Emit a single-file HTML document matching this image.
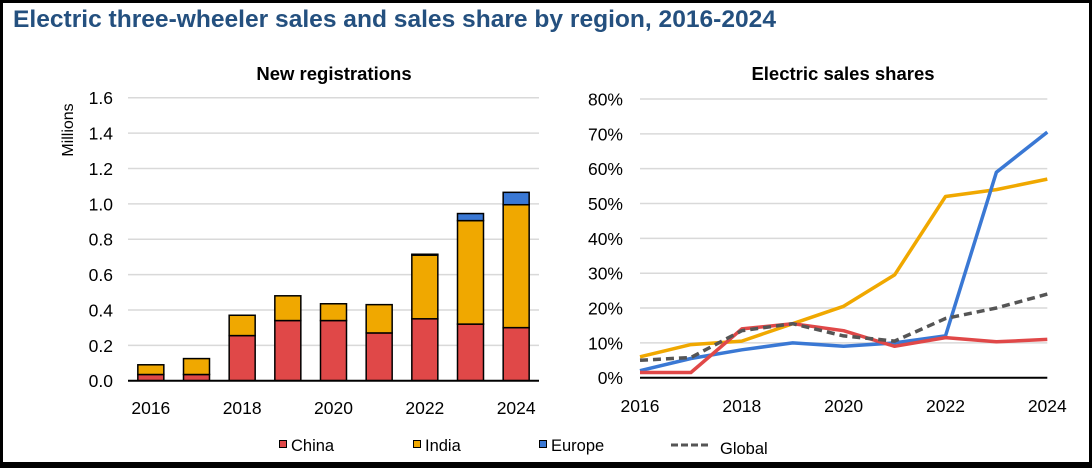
<!DOCTYPE html>
<html><head><meta charset="utf-8"><style>
html,body{margin:0;padding:0;background:#fff}
svg{display:block;font-family:"Liberation Sans",Arial,sans-serif}
</style></head><body>
<svg id="chart" width="1092" height="468" viewBox="0 0 1092 468">
<rect x="1.5" y="1.5" width="1089" height="463" fill="#fff" stroke="#000" stroke-width="3"/>
<rect x="0" y="462" width="1092" height="6" fill="#000"/>
<text x="13" y="27" font-size="24.5" font-weight="bold" fill="#24507f" textLength="763" lengthAdjust="spacingAndGlyphs">Electric three-wheeler sales and sales share by region, 2016-2024</text>
<text x="334" y="80" font-size="18.5" font-weight="bold" text-anchor="middle">New registrations</text>
<text x="843" y="80" font-size="18.5" font-weight="bold" text-anchor="middle">Electric sales shares</text>
<text transform="translate(73,130) rotate(-90)" font-size="16" text-anchor="middle">Millions</text>
<g id="left"></g>
<g id="right"></g>
<g>
<rect x="279.5" y="440.5" width="7" height="7" fill="#e04848" stroke="#000"/>
<text x="291" y="451" font-size="16.5">China</text>
<rect x="413.5" y="440.5" width="7" height="7" fill="#f0a800" stroke="#000"/>
<text x="425" y="451" font-size="16.5">India</text>
<rect x="539.5" y="440.5" width="7" height="7" fill="#3a78d4" stroke="#000"/>
<text x="551" y="451" font-size="16.5">Europe</text>
<line x1="671" y1="445" x2="708" y2="445" stroke="#555" stroke-width="3" stroke-dasharray="7,3"/>
<text x="720" y="454" font-size="16.5">Global</text>
</g>
</svg>
<script>
const years = [2016,2017,2018,2019,2020,2021,2022,2023,2024];
const chinaSales = [0.035,0.035,0.255,0.34,0.34,0.27,0.35,0.32,0.30];
const indiaSales = [0.055,0.09,0.115,0.14,0.095,0.16,0.36,0.585,0.695];
const europeSales = [0,0,0,0,0,0,0.005,0.04,0.07];
const leftTicks = [0,0.2,0.4,0.6,0.8,1.0,1.2,1.4,1.6];
const leftXLabels = [2016,2018,2020,2022,2024];
const chinaShare = [1.5,1.5,14,15.5,13.5,9,11.5,10.3,11];
const indiaShare = [6,9.5,10.5,15.5,20.5,29.5,52,54,57];
const europeShare = [2,5.5,8,10,9,10,12,59,70.5];
const globalShare = [5,5.8,13.5,15.5,12,10.5,17,20,24];
const rightTicks = [0,10,20,30,40,50,60,70,80];
const NS="http://www.w3.org/2000/svg";
function mk(p,tag,a){const e=document.createElementNS(NS,tag);for(const k in a)e.setAttribute(k,a[k]);p.appendChild(e);return e;}
const L=document.getElementById('left');
const lx0=128,lx1=539,ly0=380.7,lyTop=97.7;
const ly=v=>ly0-(v/1.6)*(ly0-lyTop);
const bandW=(lx1-lx0)/years.length;
const lxc=i=>lx0+bandW*(i+0.5);
leftTicks.forEach(t=>{
  if(t>0){const g=mk(L,'line',{x1:lx0,x2:lx1,y1:ly(t),y2:ly(t),stroke:'#d9d9d9','stroke-width':1.5});
  
  }
  const tx=mk(L,'text',{x:113,y:ly(t)+6.5,'font-size':17.5,'text-anchor':'end'});tx.textContent=t.toFixed(1);
  
  
});
years.forEach((y,i)=>{
  const segs=[[chinaSales[i],'#e04848','china'],[indiaSales[i],'#f0a800','india'],[europeSales[i],'#3a78d4','europe']];
  let base=0;
  segs.forEach(s=>{
    if(s[0]<=0)return;
    const r=mk(L,'rect',{x:lxc(i)-13,y:ly(base+s[0]),width:26,height:ly(base)-ly(base+s[0]),fill:s[1],stroke:'#000','stroke-width':1.5});
    
    
    base+=s[0];
  });
});
const la=mk(L,'line',{x1:lx0,x2:lx1,y1:ly0,y2:ly0,stroke:'#000','stroke-width':2});


leftXLabels.forEach(y=>{
  const i=years.indexOf(y);
  const t=mk(L,'text',{x:lxc(i),y:414,'font-size':17.5,'text-anchor':'middle'});t.textContent=y;
  
  
});
const R=document.getElementById('right');
const rx0=640,rx1=1047.3,ry0=377.7,ryTop=99;
const ry=v=>ry0-(v/80)*(ry0-ryTop);
const rx=i=>rx0+(rx1-rx0)*i/(years.length-1);
rightTicks.forEach(t=>{
  if(t>0){const g=mk(R,'line',{x1:rx0,x2:rx1,y1:ry(t),y2:ry(t),stroke:'#d9d9d9','stroke-width':1.5});
  
  }
  const tx=mk(R,'text',{x:623,y:ry(t)+6.5,'font-size':17.5,'text-anchor':'end'});tx.textContent=t+'%';
  
  
});
const ra=mk(R,'line',{x1:rx0,x2:rx1,y1:ry0,y2:ry0,stroke:'#000','stroke-width':2});


const series=[[indiaShare,'#f0a800','india',null],[europeShare,'#3a78d4','europe',null],[chinaShare,'#e04848','china',null],[globalShare,'#555','global','8,5']];
series.forEach(s=>{
  const pts=s[0].map((v,i)=>rx(i).toFixed(1)+','+ry(v).toFixed(1)).join(' ');
  const a={points:pts,fill:'none',stroke:s[1],'stroke-width':3.5,'stroke-linejoin':'round'};
  if(s[3])a['stroke-dasharray']=s[3];
  const p=mk(R,'polyline',a);
  
  
});
leftXLabels.forEach(y=>{
  const i=years.indexOf(y);
  const t=mk(R,'text',{x:rx(i),y:412,'font-size':17.5,'text-anchor':'middle'});t.textContent=y;
  
  
});
</script>
</body></html>
